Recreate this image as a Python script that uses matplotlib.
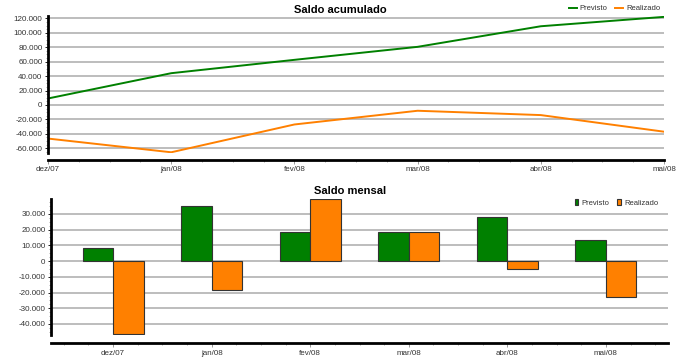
import numpy as np
import matplotlib
matplotlib.use('Agg')
import matplotlib.pyplot as plt
from matplotlib.ticker import FuncFormatter, MultipleLocator

plt.rcParams['font.family'] = ['Liberation Sans', 'DejaVu Sans']

meses = ['dez/07', 'jan/08', 'fev/08', 'mar/08', 'abr/08', 'mai/08']
acum_previsto = [9000, 44000, 62500, 80500, 109000, 122000]
acum_realizado = [-46500, -65500, -27000, -8000, -14000, -37000]
mensal_previsto = [8200, 35100, 18200, 18200, 28100, 13300]
mensal_realizado = [-46500, -18600, 39200, 18600, -5300, -22900]

verde = '#008000'
laranja = '#ff8000'
cinza = '#b8b8b8'


def milhar(v, pos):
    return '{:,.0f}'.format(v).replace(',', '.')


def estilo(ax, passo, desloc):
    for s in ['top', 'right']:
        ax.spines[s].set_visible(False)
    ax.spines['left'].set_linewidth(2)
    ax.spines['bottom'].set_linewidth(2)
    ax.spines['bottom'].set_position(('outward', desloc))
    ax.yaxis.set_major_locator(MultipleLocator(passo))
    ax.yaxis.set_minor_locator(MultipleLocator(passo / 4))
    ax.yaxis.set_major_formatter(FuncFormatter(milhar))
    ax.grid(axis='y', color=cinza, lw=1.3)
    ax.set_axisbelow(True)
    ax.tick_params(axis='both', labelsize=5.8, labelcolor='#333333', length=2.5, width=0.6, pad=1.5)
    ax.tick_params(which='minor', length=1.5, width=0.5, color='#888888')
    ax.tick_params(axis='x', which='major', length=3, color='#888888')


fig = plt.figure(figsize=(7, 3.63), dpi=100)

# Saldo acumulado
ax1 = fig.add_axes([48 / 700, 1 - 153 / 363, 616 / 700, 137 / 363])
x = np.arange(len(meses))
ax1.plot(x, acum_previsto, color=verde, lw=1.4, label='Previsto')
ax1.plot(x, acum_realizado, color=laranja, lw=1.4, label='Realizado')
ax1.set_xlim(0, 5)
ax1.set_ylim(-66500, 123200)
ax1.set_xticks(x)
ax1.set_xticklabels(meses)
ax1.xaxis.set_minor_locator(MultipleLocator(0.25))
estilo(ax1, 20000, 5)
ax1.set_title('Saldo acumulado', fontsize=8, fontweight='bold', pad=2.5, x=0.474)
ax1.legend(loc='lower right', bbox_to_anchor=(1.0, 1.0), ncol=2, frameon=False,
           fontsize=5.5, handlelength=1.0, handletextpad=0.4, columnspacing=1.0,
           borderaxespad=0.1, labelcolor='#333333')

# Saldo mensal
ax2 = fig.add_axes([51 / 700, 1 - 335 / 363, 617 / 700, 136 / 363])
w = 0.31
ax2.bar(x - w / 2, mensal_previsto, w, color=verde, edgecolor='#333333', lw=0.8, label='Previsto')
ax2.bar(x + w / 2, mensal_realizado, w, color=laranja, edgecolor='#333333', lw=0.8, label='Realizado')
ax2.set_xlim(-0.63, 5.63)
ax2.set_ylim(-47000, 39400)
ax2.set_xticks(x)
ax2.set_xticklabels(meses)
ax2.xaxis.set_minor_locator(MultipleLocator(0.25))
estilo(ax2, 10000, 6)
ax2.set_title('Saldo mensal', fontsize=8, fontweight='bold', pad=3.7, x=0.485)
ax2.legend(loc='upper right', bbox_to_anchor=(0.99, 1.03), ncol=2, frameon=False,
           fontsize=5.5, handlelength=0.5, handleheight=0.9, handletextpad=0.4,
           columnspacing=1.0, borderaxespad=0.1, labelcolor='#333333')

fig.savefig('out.png', dpi=100)
